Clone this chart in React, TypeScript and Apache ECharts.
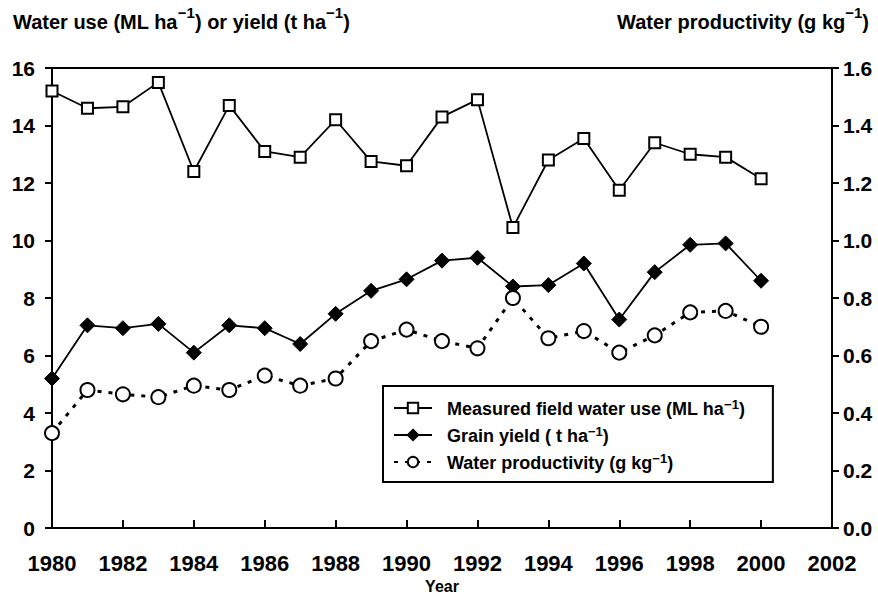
import React, { useEffect, useRef } from "react";
import * as echarts from "echarts";

const years = [1980, 1981, 1982, 1983, 1984, 1985, 1986, 1987, 1988, 1989, 1990, 1991, 1992, 1993, 1994, 1995, 1996, 1997, 1998, 1999, 2000];
const waterUse = [15.2, 14.6, 14.65, 15.5, 12.4, 14.7, 13.1, 12.9, 14.2, 12.75, 12.6, 14.3, 14.9, 10.45, 12.8, 13.55, 11.75, 13.4, 13.0, 12.9, 12.15];
const grainYield = [5.2, 7.05, 6.95, 7.1, 6.1, 7.05, 6.95, 6.4, 7.45, 8.25, 8.65, 9.3, 9.4, 8.4, 8.45, 9.2, 7.25, 8.9, 9.85, 9.9, 8.6];
const waterProductivity = [0.33, 0.48, 0.465, 0.455, 0.495, 0.48, 0.53, 0.495, 0.52, 0.65, 0.69, 0.65, 0.625, 0.8, 0.66, 0.685, 0.61, 0.67, 0.75, 0.755, 0.7];
const xTicks = { min: 1980, max: 2002, interval: 2 };
const leftTicks = { min: 0, max: 16, interval: 2 };
const rightTicks = { min: 0, max: 1.6, interval: 0.2 };
const seriesNames = ["Measured field water use", "Grain yield", "Water productivity"];
const legendUnits: Record<string, string[]> = {
  "Measured field water use": ["(ML ha", ")"],
  "Grain yield": ["( t ha", ")"],
  "Water productivity": ["(g kg", ")"],
};

const FONT = "'Liberation Sans', Arial, sans-serif";

export default function App() {
  const ref = useRef<HTMLDivElement>(null);
  useEffect(() => {
    if (!ref.current) return;
    const chart = echarts.init(ref.current, undefined, { renderer: "svg" });
    const titleRich = {
      a: { fontSize: 20, fontWeight: "bold", fontFamily: FONT, color: "#000", lineHeight: 27, verticalAlign: "bottom" },
      s: { fontSize: 15, fontWeight: "bold", fontFamily: FONT, color: "#000", lineHeight: 17, verticalAlign: "top" },
    };
    const legendRich = {
      a: { fontSize: 18, fontWeight: "bold", fontFamily: FONT, color: "#000", lineHeight: 20, verticalAlign: "bottom" },
      s: { fontSize: 13, fontWeight: "bold", fontFamily: FONT, color: "#000", lineHeight: 13, verticalAlign: "top" },
    };
    chart.setOption({
      animation: false,
      backgroundColor: "#fff",
      title: [
        {
          left: 8,
          top: 0,
          text: "{a|Water use (ML ha}{s|−1}{a|) or yield (t ha}{s|−1}{a|)}",
          textStyle: { rich: titleRich },
        },
        {
          right: 4,
          top: 0,
          text: "{a|Water productivity (g kg}{s|−1}{a|)}",
          textStyle: { rich: titleRich },
        },
      ],
      grid: {
        left: 52,
        right: 46,
        top: 68,
        bottom: 70,
        containLabel: false,
        outerBoundsMode: "none",
        show: true,
        borderColor: "#000",
        borderWidth: 2,
        backgroundColor: "transparent",
      },
      legend: {
        orient: "vertical",
        left: 383,
        top: 386,
        padding: [12, 28, 10, 10],
        itemGap: 7,
        itemWidth: 38,
        itemHeight: 13,
        backgroundColor: "#fff",
        borderColor: "#000",
        borderWidth: 2,
        borderRadius: 0,
        data: seriesNames,
        formatter: (name: string) => {
          const u = legendUnits[name];
          return `{a|  ${name} ${u[0]}}{s|−1}{a|${u[1]}}`;
        },
        textStyle: { rich: legendRich },
      },
      xAxis: {
        type: "value",
        min: xTicks.min,
        max: xTicks.max,
        interval: xTicks.interval,
        name: "Year",
        nameLocation: "middle",
        nameGap: 49,
        nameTextStyle: { fontSize: 16, fontWeight: "bold", fontFamily: FONT, color: "#000" },
        axisLine: { lineStyle: { color: "#000", width: 2 } },
        axisTick: { inside: true, length: 8, lineStyle: { color: "#000", width: 2 } },
        axisLabel: { margin: 24, fontSize: 22, fontWeight: "bold", fontFamily: FONT, color: "#000", formatter: (v: number) => String(v) },
        splitLine: { show: false },
      },
      yAxis: [
        {
          type: "value",
          min: leftTicks.min,
          max: leftTicks.max,
          interval: leftTicks.interval,
          axisLine: { show: true, lineStyle: { color: "#000", width: 2 } },
          axisTick: { show: true, length: 7, lineStyle: { color: "#000", width: 2 } },
          axisLabel: { margin: 17, fontSize: 21, fontWeight: "bold", fontFamily: FONT, color: "#000" },
          splitLine: { show: false },
        },
        {
          type: "value",
          position: "right",
          min: rightTicks.min,
          max: rightTicks.max,
          interval: rightTicks.interval,
          axisLine: { show: true, lineStyle: { color: "#000", width: 2 } },
          axisTick: { show: true, length: 7, lineStyle: { color: "#000", width: 2 } },
          axisLabel: { margin: 11, fontSize: 21, fontWeight: "bold", fontFamily: FONT, color: "#000", formatter: (v: number) => v.toFixed(1) },
          splitLine: { show: false },
        },
      ],
      series: [
        {
          name: seriesNames[0],
          type: "line",
          yAxisIndex: 0,
          data: years.map((y, i) => [y, waterUse[i]]),
          symbol: "rect",
          symbolSize: 11,
          lineStyle: { color: "#000", width: 1.8 },
          itemStyle: { color: "#fff", borderColor: "#000", borderWidth: 2 },
          z: 3,
        },
        {
          name: seriesNames[1],
          type: "line",
          yAxisIndex: 0,
          data: years.map((y, i) => [y, grainYield[i]]),
          symbol: "diamond",
          symbolSize: 15,
          lineStyle: { color: "#000", width: 1.8 },
          itemStyle: { color: "#000", borderColor: "#000", borderWidth: 1 },
          z: 3,
        },
        {
          name: seriesNames[2],
          type: "line",
          yAxisIndex: 1,
          data: years.map((y, i) => [y, waterProductivity[i]]),
          symbol: "circle",
          symbolSize: 14,
          lineStyle: { color: "#000", width: 3, type: [4, 7] },
          itemStyle: { color: "#fff", borderColor: "#000", borderWidth: 2 },
          z: 4,
        },
      ],
    });
    return () => chart.dispose();
  }, []);
  return <div ref={ref} style={{ width: 878, height: 598, position: "absolute", left: 0, top: 0 }} />;
}
